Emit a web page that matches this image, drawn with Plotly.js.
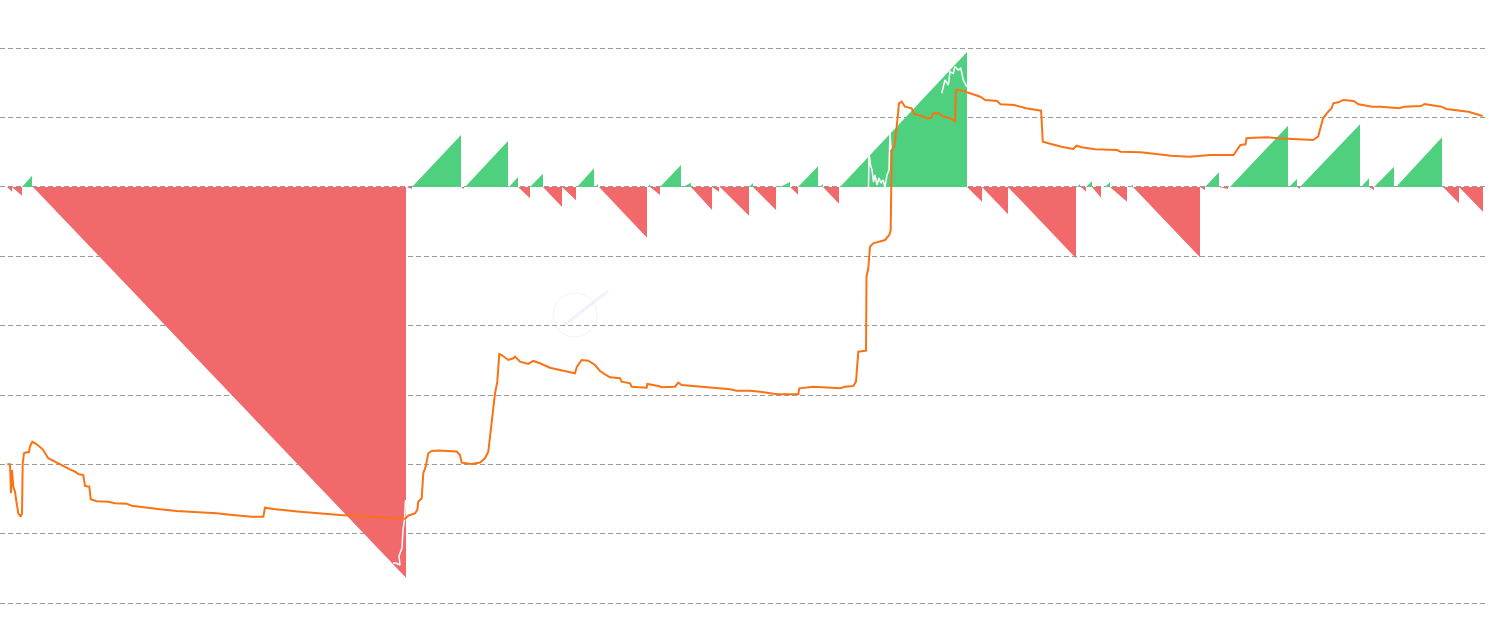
<!DOCTYPE html>
<html>
<head>
<meta charset="utf-8">
<script src="https://cdn.plot.ly/plotly-3.0.1.min.js"></script>
<style>html,body{margin:0;padding:0;background:#fff;}#chart{width:1490px;height:633px;}</style>
</head>
<body>
<div id="chart"></div>
<script>
// Streak segments (start day, end day, signed peak value)
const streakStart = [7, 12, 22, 33, 407, 412, 461, 465, 509, 518, 530, 543, 562, 577, 595, 599, 648, 650, 660, 683, 691, 712, 720, 749, 753, 780, 790, 798, 820, 823, 840, 967, 982, 1008, 1077, 1081, 1086, 1092, 1105, 1110, 1129, 1133, 1200, 1205, 1219, 1230, 1289, 1297, 1300, 1361, 1369, 1374, 1396, 1443, 1459];
const streakEnd   = [12, 22, 32, 406, 412, 461, 464, 508, 518, 530, 543, 562, 576, 594, 598, 647, 650, 660, 681, 691, 712, 719, 749, 753, 776, 790, 798, 818, 823, 839, 967, 982, 1008, 1076, 1080, 1086, 1092, 1101, 1110, 1127, 1133, 1200, 1205, 1219, 1228, 1288, 1297, 1300, 1360, 1369, 1374, 1394, 1442, 1459, 1483];
const streakValue = [-0.68, -1.25, 1.63, -56.3, -0.29, 7.49, -0.29, 6.63, 1.44, -1.63, 1.92, -2.88, -1.92, 2.69, 0.43, -7.31, 0.43, -1.15, 3.17, 0.62, -3.31, -0.68, -4.14, 0.58, -3.31, 0.72, -1.11, 2.98, 0.43, -2.41, 19.45, -2.12, -3.93, -10.27, 0.43, -0.68, 0.86, -1.54, 0.68, -2.12, 0.29, -10.13, -0.43, 2.12, -0.29, 8.83, 1.15, -0.29, 9.03, 1.25, -0.43, 2.93, 7.16, -2.35, -3.56];

// Orange line
const lineX = [7.3, 10, 11, 12, 13.3, 15, 16.7, 18.3, 20.7, 22, 22.7, 24, 26.7, 29, 30, 32.3, 36.7, 42.7, 48.3, 53.3, 63.3, 70, 75, 78.3, 83.3, 85, 89.3, 90.7, 96.7, 108.3, 115, 126.7, 131.7, 140, 150, 160, 176.7, 200, 216.7, 230, 240, 251.7, 263.3, 265, 273.3, 286.7, 300, 340, 370, 380, 405, 408.3, 415, 417.3, 418.3, 421.7, 423.3, 425.7, 428.3, 431.7, 438.3, 456.7, 460, 461.7, 471.7, 480, 485, 488.3, 490.7, 495, 497.3, 499.3, 501.7, 508.3, 513.3, 515, 520, 528.3, 533.3, 540, 550, 558.3, 563.3, 575, 576.7, 581.7, 588.3, 595, 600, 605, 610, 620, 621.7, 630, 631.7, 646.7, 647.3, 658.3, 661.7, 675, 678.3, 681.7, 693.3, 713.3, 730, 736.7, 750, 760, 770, 776.7, 798.3, 799.3, 813.3, 826.7, 840, 845, 853.3, 856, 858.3, 866, 866.5, 868.3, 870, 873.3, 880, 885, 889.3, 890.7, 891.7, 894.3, 896.7, 899, 901.7, 905, 911.7, 914, 921.7, 926.7, 930.7, 933.3, 938.3, 943.3, 950, 955, 956, 960, 970, 980.3, 985.3, 997.2, 1000.5, 1014, 1025.9, 1041.1, 1042.8, 1051.2, 1061.3, 1073.2, 1076.6, 1081.6, 1091.8, 1095.1, 1117.1, 1120.5, 1140.7, 1155.9, 1171.1, 1189.7, 1201.5, 1210, 1233.6, 1237, 1240.4, 1245.5, 1246.5, 1253.9, 1267.4, 1277.5, 1292.7, 1313, 1318.1, 1320.8, 1323.1, 1328.2, 1331.6, 1333.3, 1338.4, 1343.4, 1353.6, 1358.6, 1372.1, 1380.6, 1390.7, 1399.1, 1404.2, 1421.1, 1424.5, 1431.3, 1441.4, 1446.4, 1458.3, 1468.5, 1476.9, 1482.6];
const lineY = [-39.96, -39.96, -44.14, -40.78, -43.18, -43.90, -45.58, -47.02, -47.51, -47.02, -39.81, -38.37, -38.23, -38.23, -37.42, -36.70, -37.08, -37.80, -39.09, -39.48, -40.20, -40.68, -41.02, -41.35, -41.50, -43.08, -43.18, -45.00, -45.29, -45.35, -45.58, -45.63, -45.92, -46.07, -46.35, -46.44, -46.69, -46.87, -47.02, -47.22, -47.36, -47.51, -47.51, -46.21, -46.40, -46.64, -46.79, -47.26, -47.55, -47.65, -47.80, -47.36, -47.02, -46.54, -45.35, -44.86, -41.25, -40.30, -38.37, -38.04, -37.97, -38.11, -38.62, -39.73, -39.91, -39.70, -39.09, -38.14, -35.30, -29.73, -28.05, -24.06, -24.21, -24.93, -24.68, -24.45, -25.17, -25.50, -25.07, -25.40, -26.04, -26.37, -26.47, -26.84, -25.98, -24.93, -25.03, -25.65, -26.51, -26.99, -27.42, -27.57, -28.05, -28.29, -28.78, -28.92, -28.39, -28.67, -28.86, -28.78, -28.20, -28.53, -28.67, -29.01, -29.15, -29.35, -29.35, -29.50, -29.73, -29.87, -29.87, -29.01, -28.78, -28.92, -29.01, -28.78, -28.67, -28.05, -23.73, -23.59, -12.93, -11.71, -8.60, -8.11, -7.88, -7.64, -6.92, -6.20, 5.33, 5.81, 8.69, 12.06, 12.29, 11.57, 11.34, 10.52, 10.23, 9.90, 9.90, 10.62, 10.62, 10.13, 9.90, 9.41, 13.98, 13.98, 13.50, 13.01, 12.54, 12.39, 11.92, 11.82, 11.34, 10.99, 6.53, 6.20, 5.81, 5.48, 5.95, 5.72, 5.58, 5.43, 5.33, 5.09, 5.00, 4.71, 4.51, 4.37, 4.51, 4.61, 4.61, 5.33, 6.05, 6.15, 7.02, 7.10, 7.16, 7.02, 6.87, 6.77, 7.25, 8.93, 9.90, 10.85, 11.34, 12.06, 12.20, 12.54, 12.39, 11.92, 11.57, 11.57, 11.48, 11.34, 11.57, 11.67, 11.96, 11.82, 11.57, 11.24, 10.99, 10.85, 10.48, 10.23];

// White series (only visible where it crosses the filled areas)
const whiteX = [405.5, 404.5, 403, 402, 399, 400, 396, 393, null, 868.5, 869, 870.5, 872, 873.5, 875, 877, 879, 881, 883, 885, 887, 889, 890, 891, null, 941.7, 945, 948.3, 950, 953.3, 955, 958.3, 960.7, 963.3, 966.7];
const whiteY = [-45.10, -47.98, -49.42, -52.02, -53.17, -54.47, -54.18, -54.18, null, 0, 4.90, 3.17, 2.45, 0.72, 1.73, 0.29, 1.30, 0.58, 1.01, 0, 1.73, 2.45, 8.07, 5.33, null, 13.50, 15.42, 14.70, 16.61, 16.38, 17.34, 16.86, 17.10, 15.42, 14.46];

const greenX = [], greenY = [], redX = [], redY = [];
for (let i = 0; i < streakValue.length; i++) {
  const v = streakValue[i];
  const tx = v > 0 ? greenX : redX;
  const ty = v > 0 ? greenY : redY;
  tx.push(streakStart[i], streakEnd[i], streakEnd[i]);
  ty.push(0, v, 0);
}

const traces = [
  {x: redX, y: redY, type: 'scatter', mode: 'lines', fill: 'tozeroy',
   fillcolor: 'rgb(241,105,107)', line: {width: 0, color: 'rgb(241,105,107)'}, hoverinfo: 'skip', name: 'down'},
  {x: greenX, y: greenY, type: 'scatter', mode: 'lines', fill: 'tozeroy',
   fillcolor: 'rgb(79,208,127)', line: {width: 0, color: 'rgb(79,208,127)'}, hoverinfo: 'skip', name: 'up'},
  {x: whiteX, y: whiteY, type: 'scatter', mode: 'lines', connectgaps: false,
   line: {width: 1.5, color: '#ffffff'}, hoverinfo: 'skip', name: 'base'},
  {x: lineX, y: lineY, type: 'scatter', mode: 'lines',
   line: {width: 2, color: 'rgb(249,115,22)'}, name: 'line'}
];

const layout = {
  width: 1490, height: 633,
  margin: {l: 0, r: 3, t: 0, b: 0, pad: 0},
  paper_bgcolor: '#ffffff', plot_bgcolor: '#ffffff',
  showlegend: false,
  xaxis: {range: [0, 1487], showgrid: false, zeroline: false, showticklabels: false, showline: false, ticks: ''},
  yaxis: {range: [-64.27, 26.945], tick0: 0, dtick: 10, showgrid: true, gridcolor: '#9a9a9a',
          griddash: '5px,3px', gridwidth: 1, zeroline: false, showticklabels: false, showline: false, ticks: ''},
  shapes: [
    {type: 'circle', xref: 'paper', yref: 'paper', x0: 553/1487, x1: 597/1487, y0: 1 - 337/633, y1: 1 - 293/633,
     line: {color: 'rgba(0,0,0,0.05)', width: 1}, layer: 'below'},
    {type: 'line', xref: 'paper', yref: 'paper', x0: 563/1487, x1: 608/1487, y0: 1 - 326/633, y1: 1 - 291/633,
     line: {color: 'rgba(150,130,230,0.12)', width: 3}, layer: 'below'}
  ]
};

Plotly.newPlot('chart', traces, layout, {displayModeBar: false, staticPlot: true});
</script>
</body>
</html>
